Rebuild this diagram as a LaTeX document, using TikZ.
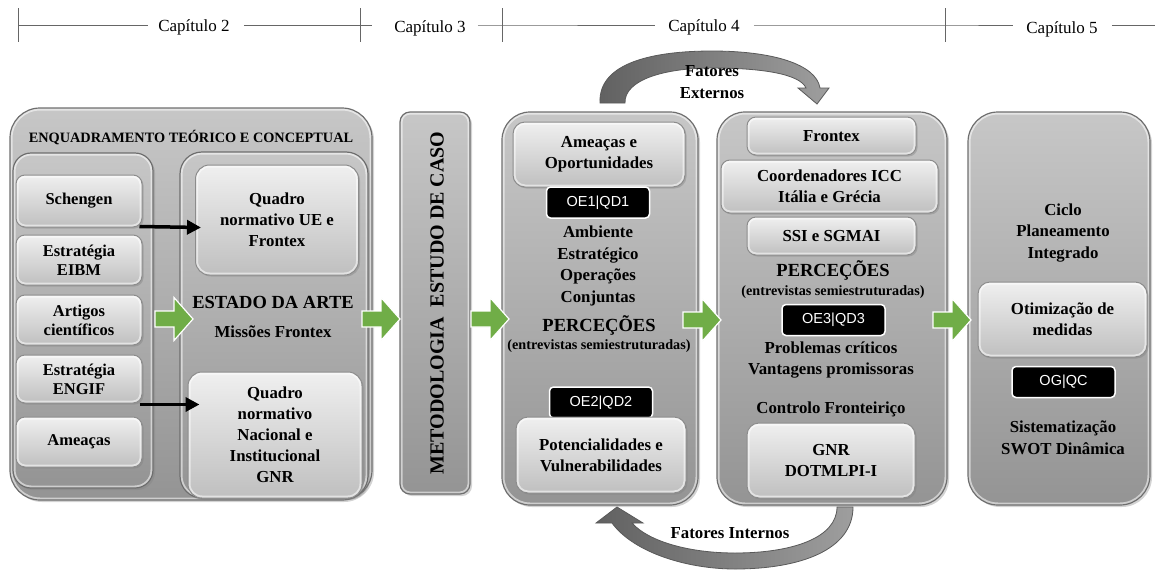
\documentclass[tikz,border=0pt]{standalone}
\usepackage{fontspec}
\setmainfont{Liberation Serif}
\newfontfamily\labelsans{Liberation Sans}
\usetikzlibrary{shadows,arrows.meta,calc}

\definecolor{arrowgreen}{HTML}{70AD47}
\definecolor{rimgray}{HTML}{6E6E6E}
\definecolor{boxrim}{HTML}{8C8C8C}

\tikzset{
  x=1pt, y=-1pt,
  bevel/.style={path picture={
    \draw[white, opacity=.55, line width=5pt]
      (path picture bounding box.south west) rectangle (path picture bounding box.north east);}},
  bigbox/.style={rounded corners=26pt, draw=rimgray, line width=1.2pt,
    top color=black!22, bottom color=black!42, bevel,
    drop shadow={shadow xshift=2pt, shadow yshift=-2pt, opacity=.35}},
  columnbox/.style={bigbox, rounded corners=18pt},
  itembox/.style={rounded corners=9pt, draw=boxrim, line width=1pt,
    top color=black!6, bottom color=black!25, bevel,
    drop shadow={shadow xshift=1.5pt, shadow yshift=-1.5pt, opacity=.4},
    font=\bfseries\fontsize{16.8}{21}\selectfont, align=center, inner sep=0pt},
  listbox/.style={itembox, font=\bfseries\fontsize{16.5}{19}\selectfont, minimum width=126pt},
  tagbox/.style={rounded corners=4pt, fill=black, draw=white, line width=1.5pt,
    text=white, font=\labelsans\fontsize{14.5}{16}\selectfont, inner sep=0pt,
    minimum width=103pt, minimum height=31pt},
  bodytext/.style={font=\bfseries\fontsize{16.8}{21.6}\selectfont, align=center, inner sep=0pt},
  bigtext/.style={font=\bfseries\fontsize{18.5}{21}\selectfont, align=center, inner sep=0pt},
  smalltext/.style={font=\bfseries\fontsize{14.2}{16}\selectfont, align=center, inner sep=0pt},
  chaptertext/.style={font=\fontsize{17}{18}\selectfont, inner sep=0pt},
  rule/.style={draw=black!60, line width=.9pt},
  linkarrow/.style={line width=3.5pt, -{Triangle[length=14pt,width=14pt]}},
  bendarrow/.style={left color=black!62, right color=black!38, draw=black!65, line width=.8pt},
  pics/fatarrow/.style={code={
    \fill[arrowgreen, draw=white, line width=1.2pt]
      (-19,-8) -- (0,-8) -- (0,-21.5) -- (19,0) -- (0,21.5) -- (0,8) -- (-19,8) -- cycle;}}
}

\begin{document}
\begin{tikzpicture}
\useasboundingbox (0,0) rectangle (1155,570);

% chapter ruler
\node[chaptertext] (c2) at (194,27) {Capítulo 2};
\node[chaptertext] (c3) at (430,28) {Capítulo 3};
\node[chaptertext] (c4) at (704,27) {Capítulo 4};
\node[chaptertext] (c5) at (1062,29) {Capítulo 5};
\coordinate (t1) at (18,25);
\coordinate (t2) at (360,25);
\coordinate (t3) at (502,25);
\coordinate (t4) at (945,25);
\coordinate (tend) at (1155,25);
\foreach \t in {t1,t2,t3,t4}
  \draw[rule, line width=.7pt] ($(\t)+(0,-17)$) -- ($(\t)+(0,17)$);
\draw[rule] (t1) -- ([xshift=-10pt]c2.west |- t1);
\draw[rule] ([xshift=14pt]c2.east |- t1) -- ($(t2)+(12,0)$);
\draw[rule] ([xshift=12pt]c3.east |- t1) -- (t3) -- ([xshift=-13pt]c4.west |- t1);
\draw[rule] ([xshift=14pt]c4.east |- t1) -- (t4) -- ([xshift=-13pt]c5.west |- t1);
\draw[rule] ([xshift=14pt]c5.east |- t1) -- (tend);

% ---------- Chapter 2: theoretical framework ----------
\node[bigbox, rounded corners=30pt, minimum width=362pt, minimum height=392pt, inner sep=0pt] (frame) at (191,304) {};
\node[font=\bfseries\fontsize{14.3}{16}\selectfont, inner sep=0pt] (frametitle) at (191,138)
  {ENQUADRAMENTO TEÓRICO E CONCEPTUAL};
\node[columnbox, minimum width=140pt, minimum height=335pt] (leftcol) at (83,320.5) {};
\node[columnbox, rounded corners=22pt, minimum width=188pt, minimum height=346pt] (rightcol) at (274,325) {};

\node[listbox, minimum height=52pt] (schengen) at (79,201) {Schengen};
\node[listbox, minimum height=50pt] (eibm) at (79,260) {Estratégia\\EIBM};
\node[listbox, minimum height=50pt] (artigos) at (79,320) {Artigos\\científicos};
\node[listbox, minimum height=48pt] (engif) at (79,379) {Estratégia\\ENGIF};
\node[listbox, minimum height=50pt] (ameacas1) at (79,442) {Ameaças};

\node[itembox, rounded corners=14pt, minimum width=163pt, minimum height=110pt] (quadroue) at (277,220)
  {Quadro\\normativo UE e\\Frontex};
\node[itembox, rounded corners=14pt, minimum width=174pt, minimum height=126pt] (quadronac) at (275,435)
  {Quadro\\normativo\\Nacional e\\Institucional\\GNR};
\node[font=\bfseries\fontsize{18.5}{20}\selectfont, inner sep=0pt] (estado) at (273,302) {ESTADO DA ARTE};
\node[bodytext] (missoes) at (273,332) {Missões Frontex};

\draw[linkarrow] ([xshift=-3pt,yshift=1pt]schengen.south east) -- ([xshift=6pt]schengen.south east -| quadroue.west);
\draw[linkarrow] ([xshift=-3pt,yshift=-1pt]engif.south east) -- ([xshift=12pt,yshift=-1pt]engif.south east -| quadronac.west);

% ---------- Chapter 3: methodology ----------
\node[columnbox, rounded corners=10pt, minimum width=70pt, minimum height=382pt] (metodo) at (435,303) {};
\node[rotate=90, font=\bfseries\fontsize{20}{22}\selectfont, inner sep=0pt] (metodotext) at (437,303)
  {METODOLOGIA\ \ ESTUDO DE CASO};

% ---------- Chapter 4: external analysis ----------
\node[bigbox, rounded corners=28pt, minimum width=196pt, minimum height=393pt] (externo) at (600,308.5) {};
\node[itembox, rounded corners=12pt, minimum width=172pt, minimum height=65pt] (oportunidades) at (599,154.5)
  {Ameaças e\\Oportunidades};
\node[tagbox] (oe1) at (598,202.5) {OE1|QD1};
\node[bodytext] (ambiente) at (598,266) {Ambiente\\Estratégico\\Operações\\Conjuntas};
\node[bigtext] (perc1) at (599,325) {PERCEÇÕES};
\node[smalltext] (entrev1) at (599,346) {(entrevistas semiestruturadas)};
\node[tagbox] (oe2) at (601,402.5) {OE2|QD2};
\node[itembox, rounded corners=12pt, minimum width=170pt, minimum height=76pt] (potencial) at (601,455)
  {Potencialidades e\\Vulnerabilidades};

% ---------- Chapter 4: internal analysis ----------
\node[bigbox, rounded corners=28pt, minimum width=230pt, minimum height=393pt] (interno) at (832,308.5) {};
\node[itembox, minimum width=169pt, minimum height=38pt] (frontex) at (831.5,136) {Frontex};
\node[itembox, minimum width=217pt, minimum height=53pt] (icc) at (829.5,186.5)
  {Coordenadores ICC\\Itália e Grécia};
\node[itembox, minimum width=169pt, minimum height=38pt] (ssi) at (831.5,236) {SSI e SGMAI};
\node[bigtext] (perc2) at (833,270) {PERCEÇÕES};
\node[smalltext] (entrev2) at (833,292) {(entrevistas semiestruturadas)};
\node[tagbox] (oe3) at (833.5,320) {OE3|QD3};
\node[bodytext] (problemas) at (831,360) {Problemas críticos\\Vantagens promissoras};
\node[bodytext] (controlo) at (831,409) {Controlo Fronteiriço};
\node[itembox, rounded corners=12pt, minimum width=168pt, minimum height=75pt] (gnr) at (831,460.5)
  {GNR\\DOTMLPI-I};

% ---------- Chapter 5: synthesis ----------
\node[bigbox, rounded corners=30pt, minimum width=182pt, minimum height=393pt] (sintese) at (1059,308.5) {};
\node[bodytext] (ciclo) at (1063,233) {Ciclo\\Planeamento\\Integrado};
\node[itembox, rounded corners=12pt, minimum width=169pt, minimum height=75pt] (otimizacao) at (1062.5,319.5)
  {Otimização de\\medidas};
\node[tagbox] (og) at (1063.5,382) {OG|QC};
\node[bodytext] (swot) at (1063,437.5) {Sistematização\\SWOT Dinâmica};

% ---------- flow between stages ----------
\pic at (174,319) {fatarrow};
\pic at (381,319) {fatarrow};
\pic at (490,319) {fatarrow};
\pic at (702,320) {fatarrow};
\pic at (952,320) {fatarrow};

% external factors: curved arrow over the two analysis boxes
\path[bendarrow]
  (600,103) .. controls (598,62) and (655,51) .. (712,51)
  .. controls (772,51) and (816,64) .. (820,88)
  -- (829,88) -- (817,104) -- (798,88) -- (806,88)
  .. controls (800,74) and (762,68) .. (712,68)
  .. controls (664,68) and (624,80) .. (625,103) -- cycle;
\node[bodytext] (externos) at (712,82) {Fatores\\Externos};

% internal factors: curved arrow under the two analysis boxes
\path[bendarrow]
  (853,507) -- (837,507)
  .. controls (837,538) and (792,553) .. (735,553)
  .. controls (688,553) and (648,541) .. (632,523)
  -- (643,523) -- (617,507) -- (596,523) -- (612,523)
  .. controls (634,553) and (688,569) .. (735,569)
  .. controls (800,569) and (853,550) .. (853,507) -- cycle;
\node[bodytext] (internos) at (730,533) {Fatores Internos};

\end{tikzpicture}
\end{document}
